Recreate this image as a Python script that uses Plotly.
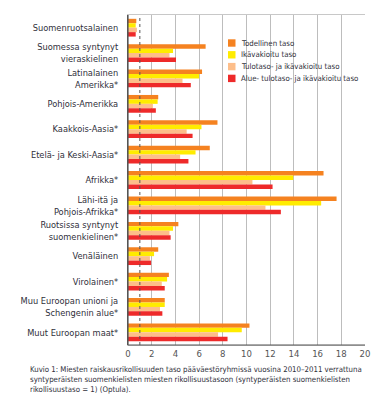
import plotly.graph_objects as go

categories = [
    "Suomenruotsalainen",
    "Suomessa syntynyt<br>vieraskielinen",
    "Latinalainen<br>Amerikka*",
    "Pohjois-Amerikka",
    "Kaakkois-Aasia*",
    "Etelä- ja Keski-Aasia*",
    "Afrikka*",
    "Lähi-itä ja<br>Pohjois-Afrikka*",
    "Ruotsissa syntynyt<br>suomenkielinen*",
    "Venäläinen",
    "Virolainen*",
    "Muu Euroopan unioni ja<br>Schengenin alue*",
    "Muut Euroopan maat*",
]
series_names = [
    "Todellinen taso",
    "Ikävakioitu taso",
    "Tulotaso- ja ikävakioitu taso",
    "Alue- tulotaso- ja ikävakioitu taso",
]
todellinen = [0.7, 6.55, 6.25, 2.55, 7.55, 6.9, 16.5, 17.6, 4.25, 2.55, 3.45, 3.1, 10.25]
ikavakioitu = [0.65, 3.8, 6.0, 2.5, 6.2, 5.7, 13.95, 16.3, 3.8, 2.2, 3.3, 3.1, 9.6]
tulotaso = [0.75, 3.5, 4.6, 2.1, 4.95, 4.4, 10.5, 11.6, 3.5, 1.85, 2.85, 2.7, 7.6]
alue = [0.65, 4.05, 5.3, 2.35, 5.45, 5.1, 12.2, 12.9, 3.6, 1.95, 3.1, 2.9, 8.4]
colors = ["#F58220", "#FFEC00", "#FDBE8A", "#EE2A2A"]
x_ticks = [0, 2, 4, 6, 8, 10, 12, 14, 16, 18, 20]
reference_level = 1

FONT = "Liberation Sans Narrow, DejaVu Sans Condensed, sans-serif"
TXT = "#2f2f3a"

W, H = 385, 400
ML, MR, MT, MB = 120, 28, 7, 63
PW, PH = W - ML - MR, H - MT - MB


def px_x(p):
    return (p - ML) / PW


def px_y(p):
    return 1 - (p - MT) / PH


fig = go.Figure()
for name, vals, c in zip(series_names, [todellinen, ikavakioitu, tulotaso, alue], colors):
    fig.add_trace(go.Bar(y=categories, x=vals, name=name, orientation="h",
                         marker=dict(color=c, line=dict(width=0)), showlegend=False))

fig.add_shape(type="line", xref="x", yref="paper", x0=reference_level, x1=reference_level,
              y0=0, y1=1, line=dict(color="#555555", width=1, dash="dot"), layer="above")

fig.update_layout(
    width=W, height=H,
    margin=dict(l=ML, r=MR, t=MT, b=MB),
    paper_bgcolor="white", plot_bgcolor="white",
    barmode="group", bargap=0.3, bargroupgap=0.0,
    font=dict(family=FONT, color=TXT, size=9),
    showlegend=False,
    xaxis=dict(range=[0, 20], tickvals=x_ticks, showgrid=True, gridcolor="#bdbdbd",
               gridwidth=1.2, zeroline=False, showline=True, linecolor="#c8c8c8",
               mirror=True, ticks="", automargin=False,
               tickfont=dict(size=9.5, color="#555555"), fixedrange=True),
    yaxis=dict(autorange="reversed", showgrid=False, showline=True, linecolor="#555555",
               linewidth=1, ticks="", ticklabelstandoff=7, automargin=False,
               tickfont=dict(size=9.2, color=TXT)),
)
fig.add_shape(type="line", xref="paper", yref="paper", x0=0, x1=0, y0=0, y1=1,
              line=dict(color="#555555", width=1.2), layer="above")
fig.add_shape(type="line", xref="paper", yref="paper", x0=0, x1=1, y0=0, y1=0,
              line=dict(color="#555555", width=1.2), layer="above")

fig.add_shape(type="rect", xref="paper", yref="paper", x0=px_x(203), x1=px_x(356),
              y0=px_y(83), y1=px_y(26), fillcolor="white", line=dict(width=0), layer="below")
for i, (name, c) in enumerate(zip(series_names, colors)):
    cy = 35 + 11.8 * i
    fig.add_shape(type="rect", xref="paper", yref="paper", x0=px_x(220), x1=px_x(227.5),
                  y0=px_y(cy + 3.7), y1=px_y(cy - 3.7), fillcolor=c, line=dict(width=0),
                  layer="above")
    fig.add_annotation(text=name, xref="paper", yref="paper", x=px_x(231), y=px_y(cy),
                       xanchor="left", yanchor="middle", showarrow=False,
                       font=dict(size=7.8, family=FONT, color=TXT))

caption = ("Kuvio 1: Miesten raiskausrikollisuuden taso pääväestöryhmissä vuosina 2010–2011 verrattuna<br>"
           "syntyperäisten suomenkielisten miesten rikollisuustasoon (syntyperäisten suomenkielisten<br>"
           "rikollisuustaso = 1) (Optula).")
fig.add_annotation(text=caption, xref="paper", yref="paper", x=px_x(20), y=-0.055,
                   xanchor="left", yanchor="top", showarrow=False, align="left",
                   font=dict(size=7.8, family=FONT, color=TXT))

fig.write_html("out.html")
